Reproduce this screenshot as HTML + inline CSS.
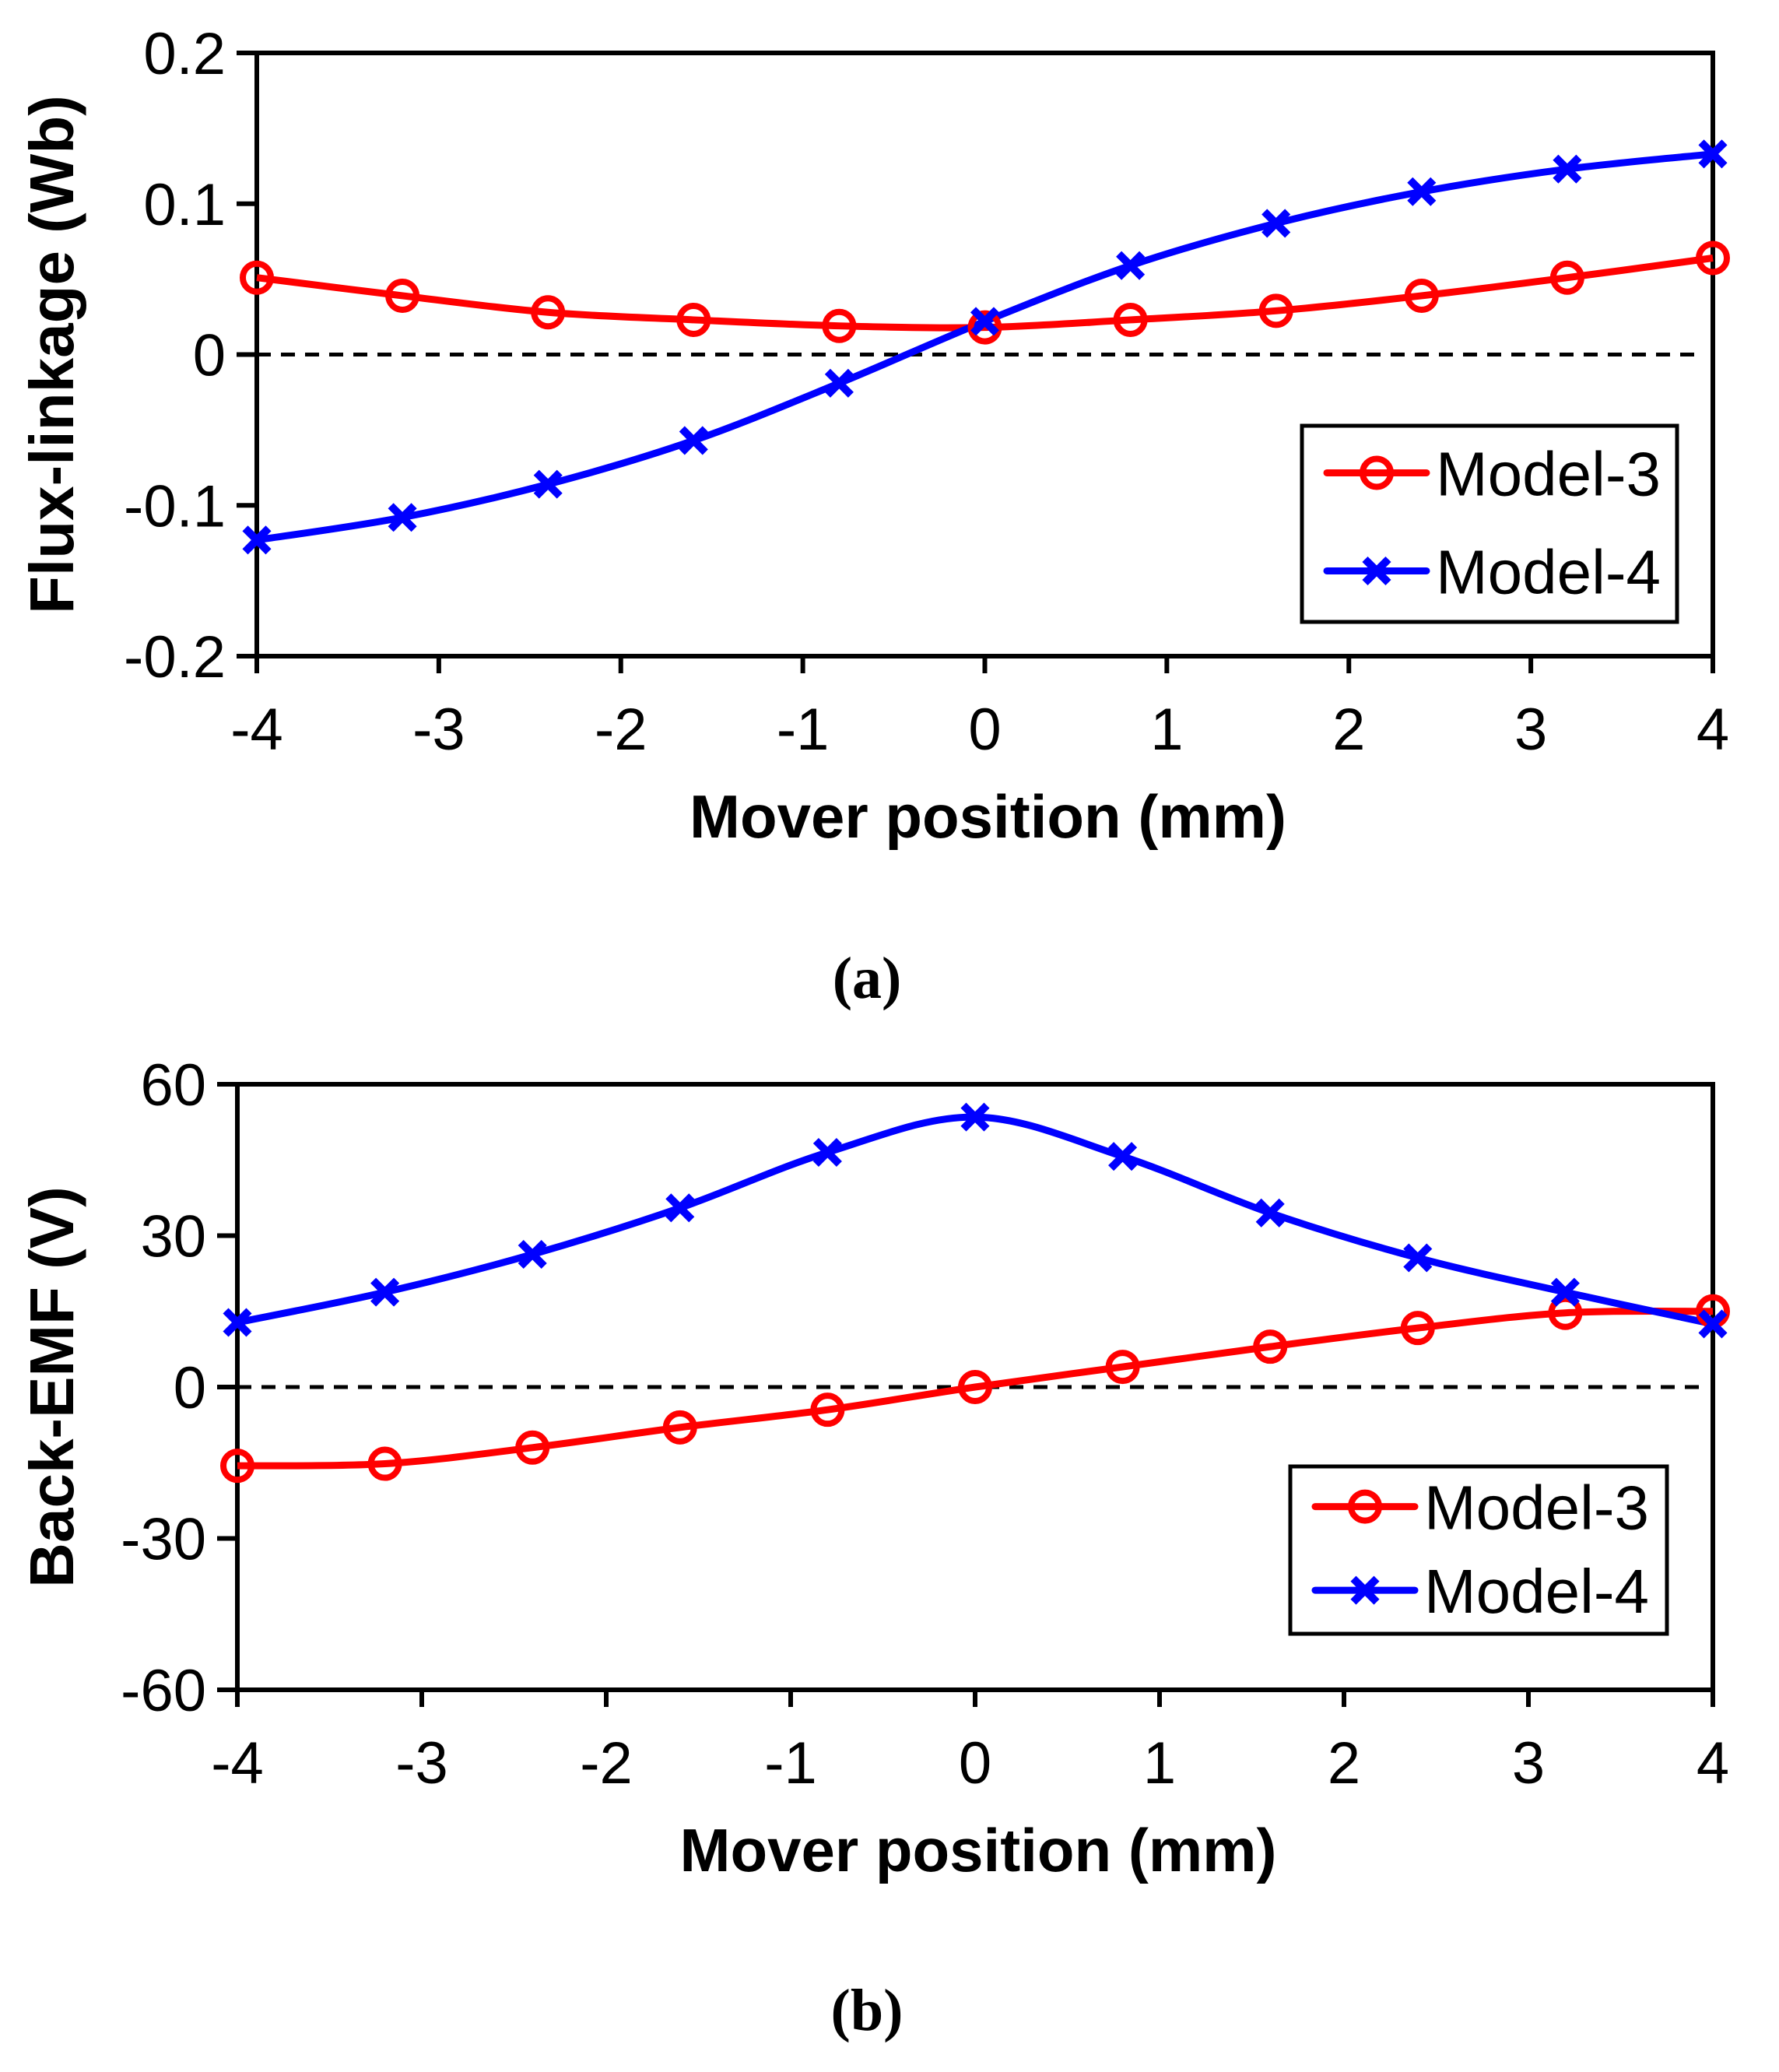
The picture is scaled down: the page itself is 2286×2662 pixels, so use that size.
<!DOCTYPE html>
<html><head><meta charset="utf-8"><style>
html,body{margin:0;padding:0;background:#fff}
svg{display:block}
</style></head><body>
<svg id="fig" width="2286" height="2662" viewBox="0 0 2286 2662" xmlns="http://www.w3.org/2000/svg" font-family="Liberation Sans, Arial, sans-serif">
<rect width="2286" height="2662" fill="#fff"/>
<text x="1114" y="1282" text-anchor="middle" style="font-family:'Liberation Serif',serif" font-size="76" font-weight="bold">(a)</text>
<text x="1114" y="2608" text-anchor="middle" style="font-family:'Liberation Serif',serif" font-size="76" font-weight="bold">(b)</text>
</svg>
<script>
const xCats=[-4,-3.2,-2.4,-1.6,-0.8,0,0.8,1.6,2.4,3.2,4];
const xTicks=[-4,-3,-2,-1,0,1,2,3,4];
const fluxModel3=[0.051,0.039,0.028,0.023,0.019,0.018,0.023,0.029,0.039,0.051,0.064];
const fluxModel4=[-0.123,-0.108,-0.086,-0.057,-0.019,0.022,0.059,0.087,0.108,0.123,0.133];
const fluxTicks=[0.2,0.1,0,-0.1,-0.2];
const fluxTickLabels=["0.2","0.1","0","-0.1","-0.2"];
const emfModel3=[-15.6,-15.2,-12,-8,-4.5,0,4,8,11.7,14.7,15];
const emfModel4=[12.8,18.8,26.3,35.5,46.5,53.5,45.7,34.5,25.6,18.8,12.5];
const emfTicks=[60,30,0,-30,-60];
const emfTickLabels=["60","30","0","-30","-60"];

const NS="http://www.w3.org/2000/svg";
const svg=document.getElementById('fig');
function mk(tag,attrs,parent){const e=document.createElementNS(NS,tag);for(const k in attrs)e.setAttribute(k,attrs[k]);(parent||svg).appendChild(e);return e;}
function smooth(pts){let d=`M${pts[0][0]},${pts[0][1]}`;for(let i=0;i<pts.length-1;i++){const p0=pts[i-1]||pts[i],p1=pts[i],p2=pts[i+1],p3=pts[i+2]||p2;const c1=[p1[0]+(p2[0]-p0[0])/6,p1[1]+(p2[1]-p0[1])/6],c2=[p2[0]-(p3[0]-p1[0])/6,p2[1]-(p3[1]-p1[1])/6];d+=`C${c1[0]},${c1[1]} ${c2[0]},${c2[1]} ${p2[0]},${p2[1]}`;}return d;}
function circle(g,x,y){const c=mk('circle',{cx:x,cy:y,r:18,fill:'none',stroke:'#f00','stroke-width':8},g);}
function cross(g,x,y){const p=mk('path',{d:`M${x-15},${y-15}L${x+15},${y+15}M${x-15},${y+15}L${x+15},${y-15}`,stroke:'#00f','stroke-width':10,fill:'none'},g);}

function chart(o){
  const g=mk('g',{});
  
  
  const sx=v=>o.L+(v+4)/8*(o.R-o.L);
  const sy=v=>o.T+(o.ymax-v)/(o.ymax-o.ymin)*(o.B-o.T);
  const zl=mk('line',{x1:o.L,x2:o.R-12,y1:sy(0),y2:sy(0),stroke:'#000','stroke-width':5,'stroke-dasharray':'18,13'},g);
  
  const fr=mk('rect',{x:o.L,y:o.T,width:o.R-o.L,height:o.B-o.T,fill:'none',stroke:'#000','stroke-width':6},g);
  
  o.yt.forEach((v,i)=>{const y=sy(v);
    const t=mk('line',{x1:o.L-26,x2:o.L,y1:y,y2:y,stroke:'#000','stroke-width':6},g);
    const tx=mk('text',{x:o.L-40,y:y+27,'text-anchor':'end','font-size':76},g);tx.textContent=o.yl[i];});
  xTicks.forEach(v=>{const x=sx(v);
    const t=mk('line',{x1:x,x2:x,y1:o.B,y2:o.B+22,stroke:'#000','stroke-width':6},g);
    const tx=mk('text',{x:x,y:o.B+120,'text-anchor':'middle','font-size':76},g);tx.textContent=String(v);});
  const xt=mk('text',{x:(o.L+o.R)/2+4,y:o.B+233,'text-anchor':'middle','font-size':78,'font-weight':'bold'},g);xt.textContent='Mover position (mm)';
  const yc=(o.T+o.B)/2;
  const yt=mk('text',{x:0,y:0,'text-anchor':'middle','font-size':80,'font-weight':'bold',transform:`translate(94,${yc}) rotate(-90)`},g);yt.textContent=o.ytitle;
  const p3=xCats.map((x,i)=>[sx(x),sy(o.s3[i])]);
  const p4=xCats.map((x,i)=>[sx(x),sy(o.s4[i])]);
  const l3=mk('path',{d:smooth(p3),fill:'none',stroke:'#f00','stroke-width':9},g);
  const l4=mk('path',{d:smooth(p4),fill:'none',stroke:'#00f','stroke-width':9},g);
  p3.forEach(p=>circle(g,p[0],p[1]));
  p4.forEach(p=>cross(g,p[0],p[1]));
  const lg=mk('g',{},g);
  mk('rect',{x:o.lg[0],y:o.lg[1],width:o.lg[2],height:o.lg[3],fill:'#fff',stroke:'#000','stroke-width':5},lg);
  const e1=o.lg[1]+o.lg[3]*0.24,e2=o.lg[1]+o.lg[3]*0.74;
  [[e1,'#f00','Model-3',0],[e2,'#00f','Model-4',1]].forEach(([y,c,t,k])=>{
    const x0=o.lg[0]+32,x1=o.lg[0]+160;
    mk('line',{x1:x0,x2:x1,y1:y,y2:y,stroke:c,'stroke-width':9,'stroke-linecap':'round'},lg);
    if(k===0)circle(lg,(x0+x1)/2,y);else cross(lg,(x0+x1)/2,y);
    const tx=mk('text',{x:o.lg[0]+172,y:y+29,'font-size':80},lg);tx.textContent=t;
    });
}
chart({name:'flux-linkage-chart',L:330,R:2201,T:68,B:843,ymax:0.2,ymin:-0.2,yt:fluxTicks,yl:fluxTickLabels,ytitle:'Flux-linkage (Wb)',s3:fluxModel3,s4:fluxModel4,lg:[1673,547,482,252]});
chart({name:'back-emf-chart',L:305,R:2201,T:1393,B:2171,ymax:60,ymin:-60,yt:emfTicks,yl:emfTickLabels,ytitle:'Back-EMF (V)',s3:emfModel3,s4:emfModel4,lg:[1658,1884,484,215]});
</script>
</body></html>
